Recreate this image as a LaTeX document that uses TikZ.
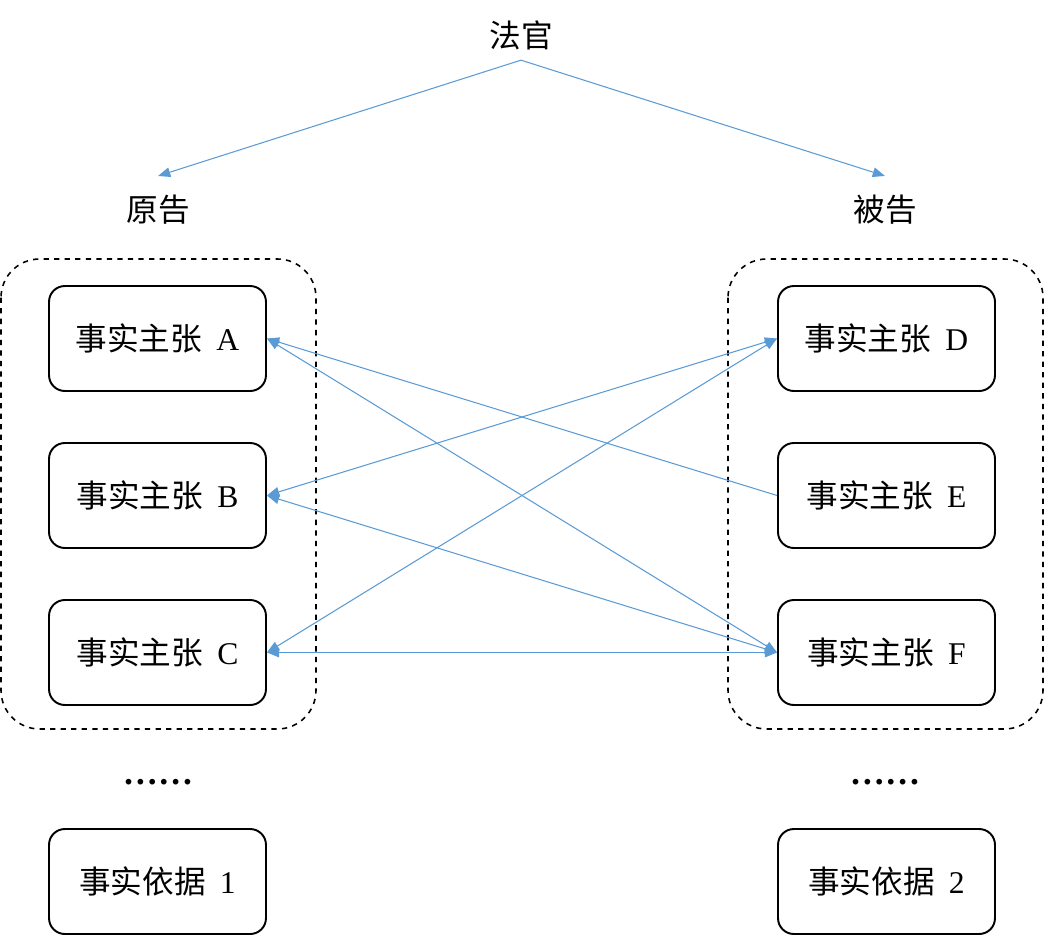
\documentclass[tikz,border=0pt]{standalone}
\usepackage{fontspec}
\setmainfont{Liberation Serif}
\newfontfamily\cjk{Noto Sans CJK SC}
\usetikzlibrary{arrows.meta, positioning}
\definecolor{linkblue}{HTML}{5B9BD5}
\newcommand{\claimtext}[2]{{\cjk #1}\hspace{0.45em}#2}

\begin{document}
\begin{tikzpicture}[
    x=0.02cm, y=-0.02cm,
    >={Triangle[length=7pt, width=5.5pt]},
    claim/.style={draw, line width=1.1pt, rounded corners=9pt, minimum width=4.34cm, minimum height=2.1cm, font=\fontsize{18}{20}\selectfont},
    party/.style={font=\cjk\fontsize{18}{20}\selectfont, inner sep=2pt, outer sep=9pt},
    group/.style={draw, dashed, line width=0.9pt, rounded corners=22pt},
    link/.style={draw=linkblue, line width=0.6pt},
]
    \useasboundingbox (0,0) rectangle (1044,936);

    % parties
    \node[party, outer sep=0pt, inner sep=6pt] (judge) at (521,35) {法官};
    \node[party] (plaintiff) at (158,210) {原告};
    \node[party] (defendant) at (885,210) {被告};

    % dashed groups
    \draw[group] (1,259) rectangle (316,729);
    \draw[group] (728,259) rectangle (1043,729);

    % claims
    \node[claim] (A) at (157.5,338.5) {\claimtext{事实主张}{A}};
    \node[claim] (B) at (157.5,495.5) {\claimtext{事实主张}{B}};
    \node[claim] (C) at (157.5,652.5) {\claimtext{事实主张}{C}};
    \node[claim] (D) at (886.5,338.5) {\claimtext{事实主张}{D}};
    \node[claim] (E) at (886.5,495.5) {\claimtext{事实主张}{E}};
    \node[claim] (F) at (886.5,652.5) {\claimtext{事实主张}{F}};

    % evidence
    \node[font=\bfseries\fontsize{20}{22}\selectfont] (ldots) at (158,782) {……};
    \node[font=\bfseries\fontsize{20}{22}\selectfont] (rdots) at (885,782) {……};
    \node[claim] (E1) at (157.5,881.5) {\claimtext{事实依据}{1}};
    \node[claim] (E2) at (886.5,881.5) {\claimtext{事实依据}{2}};

    % links
    \draw[link, ->] (judge.south) -- (plaintiff.north);
    \draw[link, ->] (judge.south) -- (defendant.north);
    \draw[link, ->] (E.west) -- (A.east);
    \draw[link, <->] (A.east) -- (F.west);
    \draw[link, <->] (B.east) -- (D.west);
    \draw[link, <->] (B.east) -- (F.west);
    \draw[link, <->] (C.east) -- (D.west);
    \draw[link, <->] (C.east) -- (F.west);
\end{tikzpicture}
\end{document}
